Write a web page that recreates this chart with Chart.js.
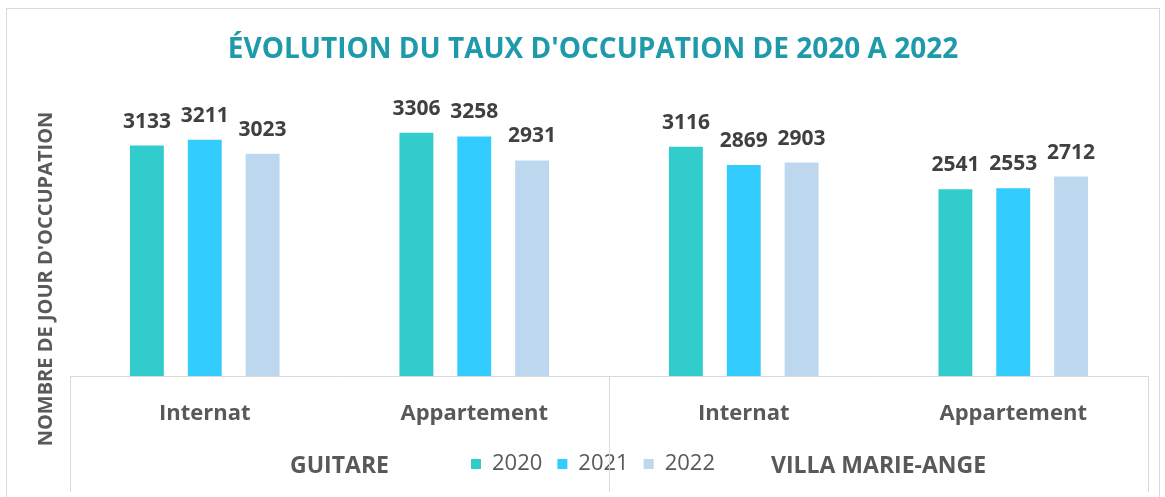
<!DOCTYPE html>
<html lang="fr">
<head>
  <meta charset="UTF-8">
  <title>Évolution du taux d'occupation</title>
  <script src="https://cdn.jsdelivr.net/npm/chart.js"></script>
  <style>
    html, body {
      margin: 0;
      padding: 0;
      background: #fff;
    }
    #wrap {
      width: 1165px;
      height: 497px;
      position: relative;
    }
  </style>
</head>
<body>
<div id="wrap">
  <canvas id="myChart" width="1165" height="497"></canvas>
</div>

<script>
  // données
  const categories = ['Internat', 'Appartement', 'Internat', 'Appartement'];
  const groups = ['GUITARE', 'VILLA MARIE-ANGE'];
  const years = ['2020', '2021', '2022'];
  const values2020 = [3133, 3306, 3116, 2541];
  const values2021 = [3211, 3258, 2869, 2553];
  const values2022 = [3023, 2931, 2903, 2712];

  const FONT = "'Open Sans', sans-serif";
  const GREY = '#595959';
  const LINE = '#d9d9d9';

  // étiquettes de valeur, cadre de l'axe, groupes et titre vertical
  const extras = {
    id: 'extras',
    afterDatasetsDraw(chart) {
      const ctx = chart.ctx;
      ctx.save();
      ctx.font = 'bold 21px ' + FONT;
      ctx.fillStyle = '#404040';
      ctx.textAlign = 'center';
      ctx.textBaseline = 'alphabetic';
      chart.data.datasets.forEach((ds, i) => {
        chart.getDatasetMeta(i).data.forEach((bar, j) => {
          ctx.fillText(ds.data[j], bar.x, bar.y - 18);
        });
      });
      ctx.restore();
    },
    afterDraw(chart) {
      const ctx = chart.ctx;
      const area = chart.chartArea;
      const x = chart.scales.x;
      const bottom = 492;
      const mid = (x.getPixelForValue(1) + x.getPixelForValue(2)) / 2;

      ctx.save();
      // bordure extérieure
      ctx.strokeStyle = LINE;
      ctx.lineWidth = 1;
      ctx.strokeRect(6.5, 8.5, 1153, 500);

      // cadre de l'axe des catégories
      ctx.beginPath();
      ctx.moveTo(area.left, area.bottom + 0.5);
      ctx.lineTo(area.right, area.bottom + 0.5);
      [area.left, mid, area.right].forEach(px => {
        ctx.moveTo(Math.round(px) + 0.5, area.bottom);
        ctx.lineTo(Math.round(px) + 0.5, bottom);
      });
      ctx.stroke();

      // libellés de groupe
      ctx.font = 'bold 23px ' + FONT;
      ctx.fillStyle = GREY;
      ctx.textAlign = 'center';
      ctx.textBaseline = 'middle';
      ctx.fillText(groups[0], (area.left + mid) / 2, 466);
      ctx.fillText(groups[1], (mid + area.right) / 2, 466);

      // titre de l'axe vertical
      ctx.translate(46, 279);
      ctx.rotate(-Math.PI / 2);
      ctx.font = 'bold 20px ' + FONT;
      ctx.fillText("NOMBRE DE JOUR D'OCCUPATION", 0, 0);
      ctx.restore();
    }
  };

  const ctx = document.getElementById('myChart').getContext('2d');
  const myChart = new Chart(ctx, {
    type: 'bar',
    data: {
      labels: categories,
      datasets: [
        { label: years[0], data: values2020, backgroundColor: '#33CCCC' },
        { label: years[1], data: values2021, backgroundColor: '#33CCFF' },
        { label: years[2], data: values2022, backgroundColor: '#BDD7EE' }
      ]
    },
    options: {
      responsive: false,
      animation: false,
      categoryPercentage: 0.644,
      barPercentage: 0.586,
      layout: {
        padding: { left: 38, right: 17, top: 20, bottom: 12 }
      },
      scales: {
        x: {
          grid: { display: false },
          border: { display: false },
          ticks: {
            font: { family: FONT, size: 22, weight: 'bold' },
            color: GREY,
            padding: 17
          },
          afterFit(scale) {
            scale.height = 62;
          }
        },
        y: {
          min: 0,
          max: 3500,
          grid: { display: false },
          border: { display: false },
          ticks: { display: false },
          afterFit(scale) {
            scale.width = 32;
          }
        }
      },
      plugins: {
        title: {
          display: true,
          text: "ÉVOLUTION DU TAUX D'OCCUPATION DE 2020 A 2022",
          color: '#1E9AAA',
          font: { family: FONT, size: 28, weight: 'bold' },
          padding: { top: 13, bottom: 52 }
        },
        legend: {
          position: 'bottom',
          labels: {
            boxWidth: 10,
            boxHeight: 10,
            padding: 15,
            color: GREY,
            font: { family: FONT, size: 22 }
          }
        },
        tooltip: { enabled: false }
      }
    },
    plugins: [extras]
  });
</script>
</body>
</html>
